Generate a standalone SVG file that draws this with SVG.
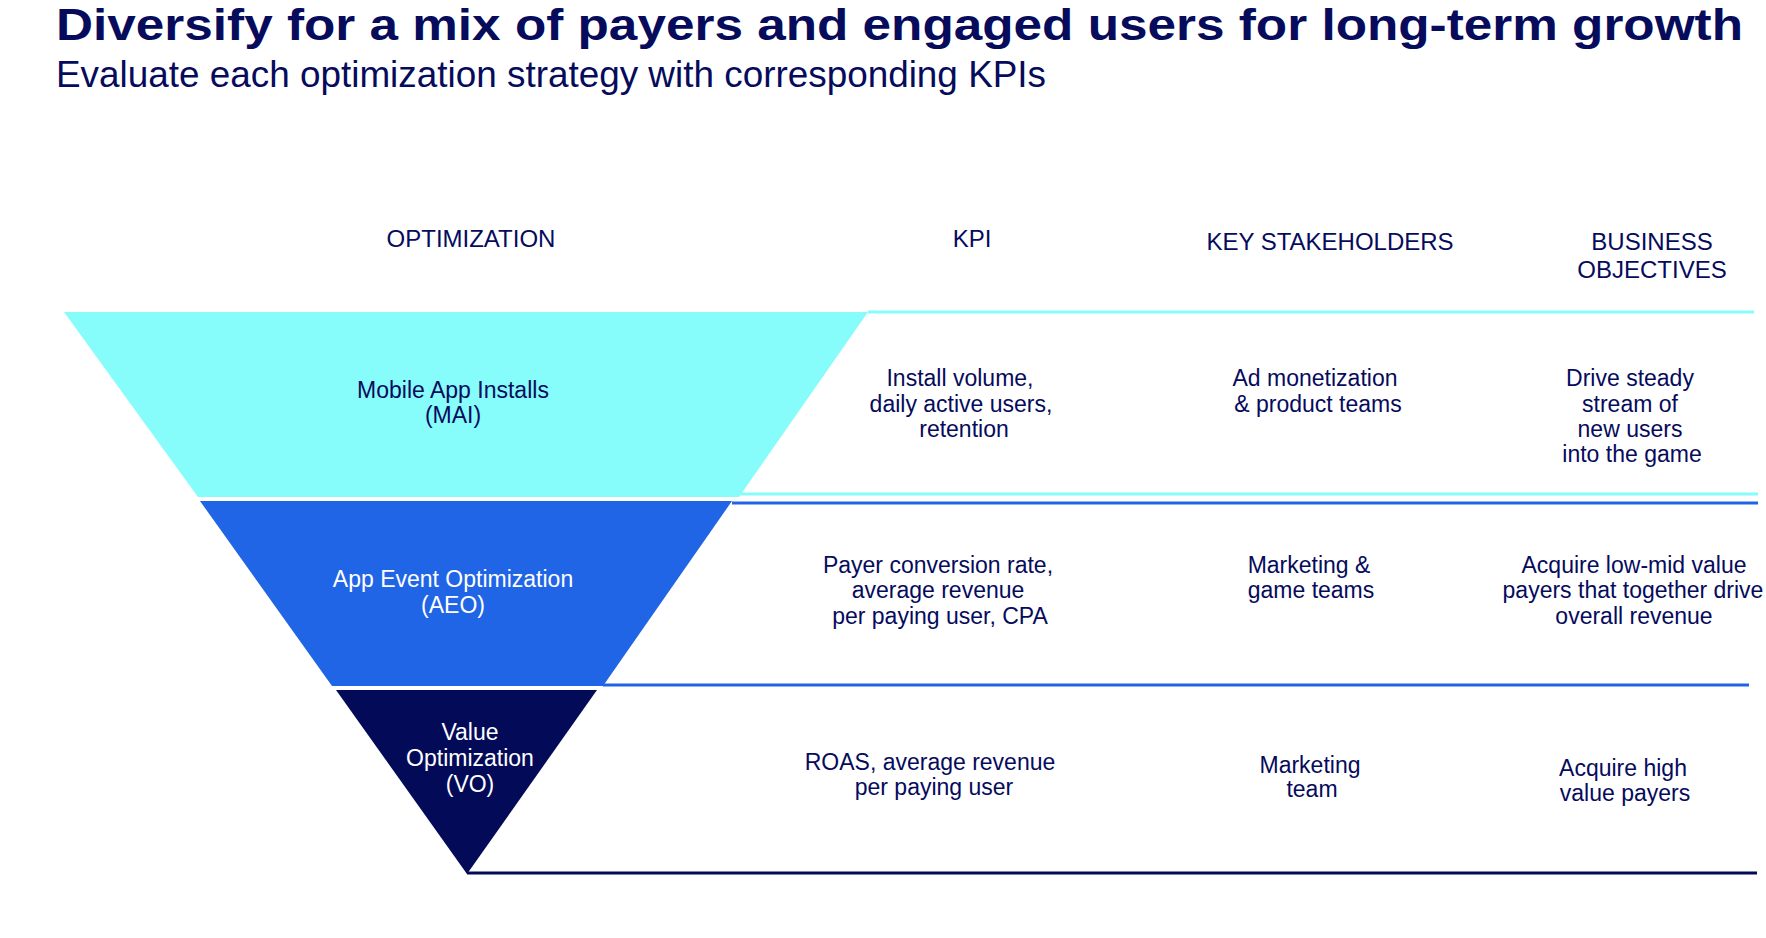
<svg xmlns="http://www.w3.org/2000/svg" width="1766" height="938" viewBox="0 0 1766 938">
<style>
  text { font-family: "Liberation Sans", Arial, sans-serif; fill: #060B5C; }
  .title { font-size: 44px; font-weight: bold; }
  .sub { font-size: 36px; }
  .hdr { font-size: 24px; text-anchor: middle; }
  .body { font-size: 23px; text-anchor: middle; }
  .white { fill: #FFFFFF; }
  .ln { stroke-width: 3; fill: none; }
</style>
<rect width="1766" height="938" fill="#FFFFFF"/>
<text class="title" x="56" y="40" textLength="1687" lengthAdjust="spacingAndGlyphs">Diversify for a mix of payers and engaged users for long-term growth</text>
<text class="sub" x="56" y="87" textLength="990" lengthAdjust="spacingAndGlyphs">Evaluate each optimization strategy with corresponding KPIs</text>

<g id="headers">
  <text class="hdr" x="471" y="247">OPTIMIZATION</text>
  <text class="hdr" x="972" y="247">KPI</text>
  <text class="hdr" x="1330" y="250">KEY STAKEHOLDERS</text>
  <text class="hdr" x="1652" y="250">BUSINESS</text>
  <text class="hdr" x="1652" y="278">OBJECTIVES</text>
</g>

<g id="connectors">
  <line class="ln" x1="868" y1="312" x2="1754" y2="312" stroke="#86FCFB"/>
  <line class="ln" x1="739" y1="494" x2="1758" y2="494" stroke="#86FCFB"/>
  <line class="ln" x1="732" y1="503" x2="1758" y2="503" stroke="#1F64E6"/>
  <line class="ln" x1="603" y1="685" x2="1749" y2="685" stroke="#1F64E6"/>
  <line class="ln" x1="467" y1="873" x2="1757" y2="873" stroke="#030A58"/>
</g>

<g id="mai">
  <polygon points="64,312 868,312 739,497 198,497" fill="#86FCFB"/>
  <text class="body" x="453" y="398">Mobile App Installs</text>
  <text class="body" x="453" y="423">(MAI)</text>
</g>
<g id="aeo">
  <polygon points="200,501 732,501 603,686 332,686" fill="#2065E6"/>
  <text class="body white" x="453" y="587">App Event Optimization</text>
  <text class="body white" x="453" y="613">(AEO)</text>
</g>
<g id="vo">
  <polygon points="336,690 597,690 467,874" fill="#030A58"/>
  <text class="body white" x="470" y="740">Value</text>
  <text class="body white" x="470" y="766">Optimization</text>
  <text class="body white" x="470" y="792">(VO)</text>
</g>

<g id="row-mai">
  <text class="body" x="960" y="386">Install volume,</text>
  <text class="body" x="961" y="412">daily active users,</text>
  <text class="body" x="964" y="437">retention</text>
  <text class="body" x="1315" y="386">Ad monetization</text>
  <text class="body" x="1318" y="412">&amp; product teams</text>
  <text class="body" x="1630" y="386">Drive steady</text>
  <text class="body" x="1630" y="412">stream of</text>
  <text class="body" x="1630" y="437">new users</text>
  <text class="body" x="1632" y="462">into the game</text>
</g>
<g id="row-aeo">
  <text class="body" x="938" y="573">Payer conversion rate,</text>
  <text class="body" x="938" y="598">average revenue</text>
  <text class="body" x="940" y="624">per paying user, CPA</text>
  <text class="body" x="1309" y="573">Marketing &amp;</text>
  <text class="body" x="1311" y="598">game teams</text>
  <text class="body" x="1634" y="573">Acquire low-mid value</text>
  <text class="body" x="1633" y="598">payers that together drive</text>
  <text class="body" x="1634" y="624">overall revenue</text>
</g>
<g id="row-vo">
  <text class="body" x="930" y="770">ROAS, average revenue</text>
  <text class="body" x="934" y="795">per paying user</text>
  <text class="body" x="1310" y="773">Marketing</text>
  <text class="body" x="1312" y="797">team</text>
  <text class="body" x="1623" y="776">Acquire high</text>
  <text class="body" x="1625" y="801">value payers</text>
</g>
</svg>
